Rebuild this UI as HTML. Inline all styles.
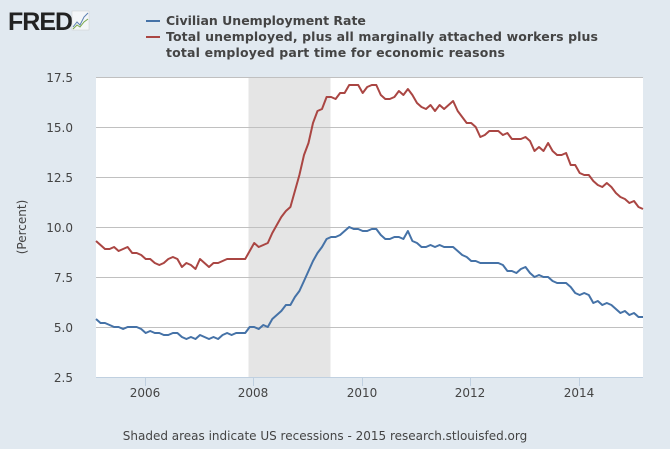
<!DOCTYPE html>
<html><head><meta charset="utf-8"><style>
html,body{margin:0;padding:0;background:#e1e9f0;}
body{width:670px;height:445px;overflow:hidden;font-family:"DejaVu Sans","Liberation Sans",sans-serif;}
</style></head><body>
<svg id="s" width="670" height="445" xmlns="http://www.w3.org/2000/svg" font-family="DejaVu Sans, Liberation Sans, sans-serif">
<rect width="670" height="445" fill="#e1e9f0"/>
<text x="8" y="30" font-family="Liberation Sans, sans-serif" font-weight="bold" font-size="25" fill="#222" letter-spacing="-1">FRED</text>
<rect x="72" y="11" width="17" height="19" fill="#f4f6f8" stroke="#ccc" stroke-width="0.5"/>
<polyline points="73,27 77,22 80,25 84,17 88,13" fill="none" stroke="#5b7fb0" stroke-width="1"/>
<polyline points="73,29 77,25 80,27 84,22 88,19" fill="none" stroke="#7aa84a" stroke-width="1"/>
<line x1="146" y1="21" x2="160" y2="21" stroke="#4572a7" stroke-width="2"/>
<line x1="146" y1="37" x2="160" y2="37" stroke="#aa4643" stroke-width="2"/>
<g font-weight="bold" font-size="12.5" fill="#444">
<text x="166" y="25">Civilian Unemployment Rate</text>
<text x="166" y="41" textLength="432">Total unemployed, plus all marginally attached workers plus</text>
<text x="166" y="57" textLength="339">total employed part time for economic reasons</text>
</g>
<rect x="96" y="77" width="547" height="300" fill="#fff"/>
<rect x="248.5" y="77" width="82" height="300" fill="#e5e5e5"/>
<g stroke="#c0c0c0" stroke-width="1">
<line x1="96" y1="77.5" x2="643" y2="77.5"/><line x1="96" y1="127.5" x2="643" y2="127.5"/>
<line x1="96" y1="177.5" x2="643" y2="177.5"/><line x1="96" y1="227.5" x2="643" y2="227.5"/>
<line x1="96" y1="277.5" x2="643" y2="277.5"/><line x1="96" y1="327.5" x2="643" y2="327.5"/>
</g>
<line x1="96" y1="377.5" x2="643" y2="377.5" stroke="#c0d0e0"/>
<g stroke="#c0d0e0"><line x1="145.5" y1="377" x2="145.5" y2="386"/><line x1="253.5" y1="377" x2="253.5" y2="386"/><line x1="362.5" y1="377" x2="362.5" y2="386"/><line x1="470.5" y1="377" x2="470.5" y2="386"/><line x1="579.5" y1="377" x2="579.5" y2="386"/></g>
<g font-size="12" fill="#444" text-anchor="end">
<text x="73" y="82">17.5</text><text x="73" y="132">15.0</text><text x="73" y="182">12.5</text>
<text x="73" y="232">10.0</text><text x="73" y="282">7.5</text><text x="73" y="332">5.0</text><text x="73" y="382">2.5</text>
</g>
<g font-size="12" fill="#444" text-anchor="middle">
<text x="145" y="397">2006</text><text x="253" y="397">2008</text><text x="362" y="397">2010</text><text x="470" y="397">2012</text><text x="579" y="397">2014</text>
</g>
<text transform="translate(26,227) rotate(-90)" font-size="12" fill="#444" text-anchor="middle">(Percent)</text>
<text x="325" y="440" font-size="12" fill="#444" text-anchor="middle">Shaded areas indicate US recessions - 2015 research.stlouisfed.org</text>
<polyline id="u6" fill="none" stroke="#aa4643" stroke-width="2" stroke-linejoin="round"/>
<polyline id="ur" fill="none" stroke="#4572a7" stroke-width="2" stroke-linejoin="round"/>
</svg>
<script>
var ur=[5.4,5.2,5.2,5.1,5.0,5.0,4.9,5.0,5.0,5.0,4.9,
4.7,4.8,4.7,4.7,4.6,4.6,4.7,4.7,4.5,4.4,4.5,4.4,
4.6,4.5,4.4,4.5,4.4,4.6,4.7,4.6,4.7,4.7,4.7,5.0,
5.0,4.9,5.1,5.0,5.4,5.6,5.8,6.1,6.1,6.5,6.8,7.3,
7.8,8.3,8.7,9.0,9.4,9.5,9.5,9.6,9.8,10.0,9.9,9.9,
9.8,9.8,9.9,9.9,9.6,9.4,9.4,9.5,9.5,9.4,9.8,9.3,
9.2,9.0,9.0,9.1,9.0,9.1,9.0,9.0,9.0,8.8,8.6,8.5,
8.3,8.3,8.2,8.2,8.2,8.2,8.2,8.1,7.8,7.8,7.7,7.9,
8.0,7.7,7.5,7.6,7.5,7.5,7.3,7.2,7.2,7.2,7.0,6.7,
6.6,6.7,6.6,6.2,6.3,6.1,6.2,6.1,5.9,5.7,5.8,5.6,
5.7,5.5,5.5];
var u6=[9.3,9.1,8.9,8.9,9.0,8.8,8.9,9.0,8.7,8.7,8.6,
8.4,8.4,8.2,8.1,8.2,8.4,8.5,8.4,8.0,8.2,8.1,7.9,
8.4,8.2,8.0,8.2,8.2,8.3,8.4,8.4,8.4,8.4,8.4,8.8,
9.2,9.0,9.1,9.2,9.7,10.1,10.5,10.8,11.0,11.8,12.6,13.6,
14.2,15.2,15.8,15.9,16.5,16.5,16.4,16.7,16.7,17.1,17.1,17.1,
16.7,17.0,17.1,17.1,16.6,16.4,16.4,16.5,16.8,16.6,16.9,16.6,
16.2,16.0,15.9,16.1,15.8,16.1,15.9,16.1,16.3,15.8,15.5,15.2,
15.2,15.0,14.5,14.6,14.8,14.8,14.8,14.6,14.7,14.4,14.4,14.4,
14.5,14.3,13.8,14.0,13.8,14.2,13.8,13.6,13.6,13.7,13.1,13.1,
12.7,12.6,12.6,12.3,12.1,12.0,12.2,12.0,11.7,11.5,11.4,11.2,
11.3,11.0,10.9];
function pts(a){var s=[];var step=(643-96)/(a.length-1);for(var i=0;i<a.length;i++){s.push((96+i*step).toFixed(1)+","+(377-(a[i]-2.5)*20).toFixed(1));}return s.join(" ");}
document.getElementById("ur").setAttribute("points",pts(ur));
document.getElementById("u6").setAttribute("points",pts(u6));
</script>
</body></html>
